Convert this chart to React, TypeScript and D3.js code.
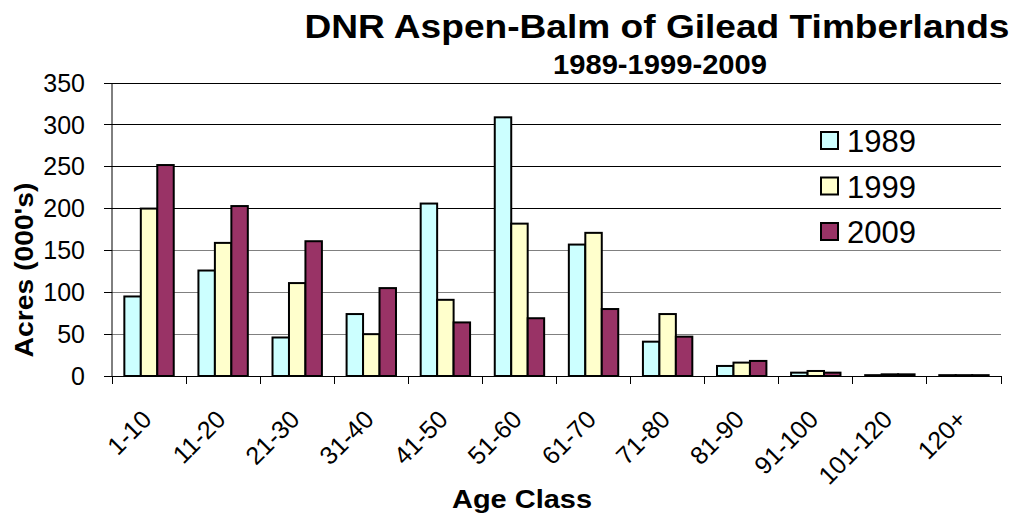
import React from "react";
import * as d3 from "d3";

const ageClasses = ["1-10", "11-20", "21-30", "31-40", "41-50", "51-60", "61-70", "71-80", "81-90", "91-100", "101-120", "120+"];
const years = ["1989", "1999", "2009"];
const acres1989 = [95, 126, 46, 74, 206, 309, 157, 41, 12, 4, 1, 1];
const acres1999 = [200, 159, 111, 50, 91, 182, 171, 74, 16, 6, 2, 1];
const acres2009 = [252, 203, 161, 105, 64, 69, 80, 47, 18, 4, 2, 1];
const yTicks = [0, 50, 100, 150, 200, 250, 300, 350];
const colors = ["#CCFFFF", "#FFFFCC", "#993366"];

const W = 1018;
const H = 517;
const left = 112;
const right = 1001;
const top = 83;
const bottom = 376;
const font = "'Liberation Sans', Arial, sans-serif";

const App = () => {
  const series = [acres1989, acres1999, acres2009];
  const x = d3.scaleBand().domain(ageClasses).range([left, right]).padding(0);
  const inner = d3.scaleBand().domain(years).range([0, x.bandwidth()]).paddingInner(0).paddingOuter(0.75);
  const y = d3.scaleLinear().domain([0, 350]).range([bottom, top]);

  return (
    <svg width={W} height={H} style={{ position: "absolute", left: 0, top: 0 }} fontFamily={font}>
      <rect width={W} height={H} fill="white" />
      {/* titles */}
      <text x={657} y={38} textAnchor="middle" fontSize={34} fontWeight="bold" textLength={705} lengthAdjust="spacingAndGlyphs">
        DNR Aspen-Balm of Gilead Timberlands
      </text>
      <text x={660} y={74} textAnchor="middle" fontSize={28} fontWeight="bold" textLength={214} lengthAdjust="spacingAndGlyphs">
        1989-1999-2009
      </text>

      {/* grid */}
      {yTicks.filter(t => t > 0).map(t => (
        <line key={t} x1={left} x2={right} y1={y(t)} y2={y(t)} stroke={t >= 200 ? "#000" : "#808080"} strokeWidth={1} shapeRendering="crispEdges" />
      ))}

      {/* bars */}
      {ageClasses.map((c, i) => (
        <g key={c} transform={`translate(${x(c)},0)`}>
          {years.map((yr, j) => (
            <rect
              key={yr}
              x={inner(yr)}
              y={y(series[j][i])}
              width={inner.bandwidth()}
              height={bottom - y(series[j][i])}
              fill={colors[j]}
              stroke="#000"
              strokeWidth={2}
            />
          ))}
        </g>
      ))}

      {/* y axis */}
      <line x1={left} x2={left} y1={top} y2={bottom} stroke="#000" />
      {yTicks.map(t => (
        <g key={t}>
          <line x1={left - 8} x2={left} y1={y(t)} y2={y(t)} stroke="#000" shapeRendering="crispEdges" />
          <text x={left - 27} y={y(t)} dy="0.35em" textAnchor="end" fontSize={25}>{t}</text>
        </g>
      ))}
      <text transform={`translate(33,270) rotate(-90)`} textAnchor="middle" fontSize={26} fontWeight="bold" textLength={175} lengthAdjust="spacingAndGlyphs">
        Acres (000's)
      </text>

      {/* x axis */}
      <line x1={left - 8} x2={right} y1={bottom} y2={bottom} stroke="#000" shapeRendering="crispEdges" />
      {[...ageClasses.map(c => x(c) as number), right].map((v, i) => (
        <line key={i} x1={v} x2={v} y1={bottom} y2={bottom + 8} stroke="#000" shapeRendering="crispEdges" />
      ))}
      {ageClasses.map(c => (
        <text
          key={c}
          transform={`translate(${(x(c) as number) + x.bandwidth() / 2 + 4},${bottom + 45}) rotate(-45)`}
          textAnchor="end"
          fontSize={25}
        >
          {c}
        </text>
      ))}
      <text x={522} y={508} textAnchor="middle" fontSize={26} fontWeight="bold" textLength={140} lengthAdjust="spacingAndGlyphs">Age Class</text>

      {/* legend */}
      {years.map((yr, j) => (
        <g key={yr} transform={`translate(821,${132 + j * 45.5})`}>
          <rect width={17} height={17} fill={colors[j]} stroke="#000" strokeWidth={2} />
          <text x={26} y={20} fontSize={31}>{yr}</text>
        </g>
      ))}
    </svg>
  );
};

export default App;
